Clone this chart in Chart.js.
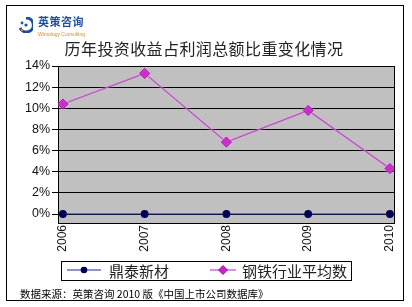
<!DOCTYPE html>
<html>
<head>
<meta charset="utf-8">
<script src="https://cdn.jsdelivr.net/npm/chart.js@4.4.1/dist/chart.umd.min.js"></script>
<style>
    body { margin: 0; background: #fff; }
    #wrap { position: relative; width: 412px; height: 307px; overflow: hidden; font-family: "Noto Sans CJK SC", sans-serif; }
    #frame { position: absolute; left: 6px; top: 5px; width: 398px; height: 296px; border: 1.5px solid #000; box-sizing: border-box; }
    #chartBox { position: absolute; left: 0; top: 0; width: 412px; height: 307px; }
    #logo { position: absolute; left: 19px; top: 17px; }
    #logoText { position: absolute; left: 38px; top: 13px; font-size: 11px; font-weight: bold; color: #1d4f9c; letter-spacing: 0.5px; }
    #logoSub { position: absolute; left: 38px; top: 31px; font-size: 5px; color: #d98a2b; font-family: "Liberation Sans", sans-serif; }
    #title { position: absolute; left: 0; width: 408px; top: 36px; text-align: center; font-size: 16px; color: #222; letter-spacing: 0.4px; }
    #legend { position: absolute; left: 61px; top: 261px; width: 291px; height: 20px; border: 1px solid #000; box-sizing: border-box; font-size: 15px; color: #222; background: #fff; }
    .item { position: absolute; top: -2px; white-space: nowrap; }
    .item svg { position: absolute; top: 6px; }
    #source { position: absolute; left: 20px; top: 286px; font-size: 10.5px; color: #000; white-space: nowrap; }
</style>
</head>
<body>
<div id="wrap">
    <div id="frame"></div>
    <div id="chartBox"><canvas id="trendChart" width="412" height="307"></canvas></div>
    <svg id="logo" width="14" height="16" viewBox="0 0 14 16">
        <path d="M7 1 A7 7 0 1 1 1 11" fill="none" stroke="#1d4f9c" stroke-width="3"/>
        <circle cx="3" cy="6" r="1.4" fill="#1d4f9c"/>
        <circle cx="7" cy="8" r="1.6" fill="#1d4f9c"/>
        <circle cx="3" cy="13" r="1.2" fill="#d98a2b"/>
    </svg>
    <div id="logoText">英策咨询</div>
    <div id="logoSub">Wintology Consulting</div>
    <div id="title">历年投资收益占利润总额比重变化情况</div>
    <div id="legend">
        <div class="item" style="left:5px">
            <svg width="34" height="8"><line x1="0" y1="4" x2="34" y2="4" stroke="#1f2a8a" stroke-width="1.2"/><circle cx="17" cy="4" r="3.3" fill="#000055"/></svg>
            <span style="position:absolute;left:42px">鼎泰新材</span>
        </div>
        <div class="item" style="left:148px">
            <svg width="26" height="10" style="top:5px"><line x1="0" y1="5" x2="26" y2="5" stroke="#b050b8" stroke-width="1.2"/><polygon points="13,0.5 17.5,5 13,9.5 8.5,5" fill="#cc22cc" stroke="#880088" stroke-width="0.8"/></svg>
            <span style="position:absolute;left:32px">钢铁行业平均数</span>
        </div>
    </div>
    <div id="source">数据来源：英策咨询 2010 版《中国上市公司数据库》</div>
</div>
<script>
const years = [2006, 2007, 2008, 2009, 2010];
const dingtai = [0, 0, 0, 0, 0];
const steelAvg = [10.4, 13.3, 6.8, 9.8, 4.3];
const yTicks = [0, 2, 4, 6, 8, 10, 12, 14];

// grey plot area, like the old Excel charts
const plotBackground = {
    id: "plotBackground",
    beforeDraw(chart) {
        const { ctx, chartArea: a } = chart;
        ctx.save();
        ctx.fillStyle = "#c0c0c0";
        ctx.fillRect(a.left, a.top, a.right - a.left, a.bottom - a.top);
        ctx.restore();
    },
    beforeDatasetsDraw(chart) {
        const { ctx, chartArea: a } = chart;
        ctx.save();
        ctx.strokeStyle = "#000";
        ctx.lineWidth = 1;
        ctx.strokeRect(Math.round(a.left) + 0.5, Math.round(a.top) + 0.5, Math.round(a.right - a.left), Math.round(a.bottom - a.top));
        ctx.restore();
    },
    beforeDatasetDraw(chart, args) {
        if (args.index === 1) {
            chart.ctx.save();
            chart.ctx.shadowColor = "#f0a0f0";
            chart.ctx.shadowBlur = 3;
        }
    },
    afterDatasetDraw(chart, args) {
        if (args.index === 1) chart.ctx.restore();
    }
};

const ctx = document.getElementById("trendChart").getContext("2d");
const chart = new Chart(ctx, {
    type: "line",
    data: {
        datasets: [{
            label: "鼎泰新材",
            data: years.map((y, i) => ({ x: y, y: dingtai[i] })),
            borderColor: "#1f2a8a",
            borderWidth: 1.2,
            backgroundColor: "#000055",
            pointBackgroundColor: "#000055",
            pointBorderColor: "#000055",
            pointRadius: 3.3,
            pointStyle: "circle"
        }, {
            label: "钢铁行业平均数",
            data: years.map((y, i) => ({ x: y, y: steelAvg[i] })),
            borderColor: "#b050b8",
            borderWidth: 1.2,
            backgroundColor: "#cc22cc",
            pointBackgroundColor: "#cc22cc",
            pointBorderColor: "#880088",
            pointBorderWidth: 0.8,
            pointRadius: 5,
            pointStyle: "rectRot"
        }]
    },
    options: {
        responsive: false,
        animation: false,
        devicePixelRatio: 1,
        layout: { padding: { top: 66, right: 18, left: 0, bottom: 0 } },
        plugins: { legend: { display: false }, tooltip: { enabled: false } },
        scales: {
            x: {
                type: "linear",
                min: 2005.94,
                max: 2010.05,
                afterBuildTicks: scale => { scale.ticks = years.map(v => ({ value: v })); },
                afterFit: scale => { scale.height = 84; },
                grid: { display: false, drawTicks: false, tickLength: 0 },
                border: { display: true, color: "#000", width: 1 },
                ticks: {
                    minRotation: 90,
                    maxRotation: 90,
                    padding: 2,
                    color: "#111",
                    font: { family: "Liberation Sans", size: 12 },
                    callback: v => String(v)
                }
            },
            y: {
                min: -0.85,
                max: 14,
                afterBuildTicks: scale => { scale.ticks = yTicks.map(v => ({ value: v })); },
                afterFit: scale => { scale.width = 58; },
                grid: { color: "#000", lineWidth: 1, tickLength: 6 },
                border: { display: true, color: "#000", width: 1 },
                ticks: {
                    padding: 2,
                    color: "#111",
                    font: { family: "Liberation Sans", size: 12.5 },
                    callback: v => v + "%"
                }
            }
        }
    },
    plugins: [plotBackground]
});
</script>
</body>
</html>
